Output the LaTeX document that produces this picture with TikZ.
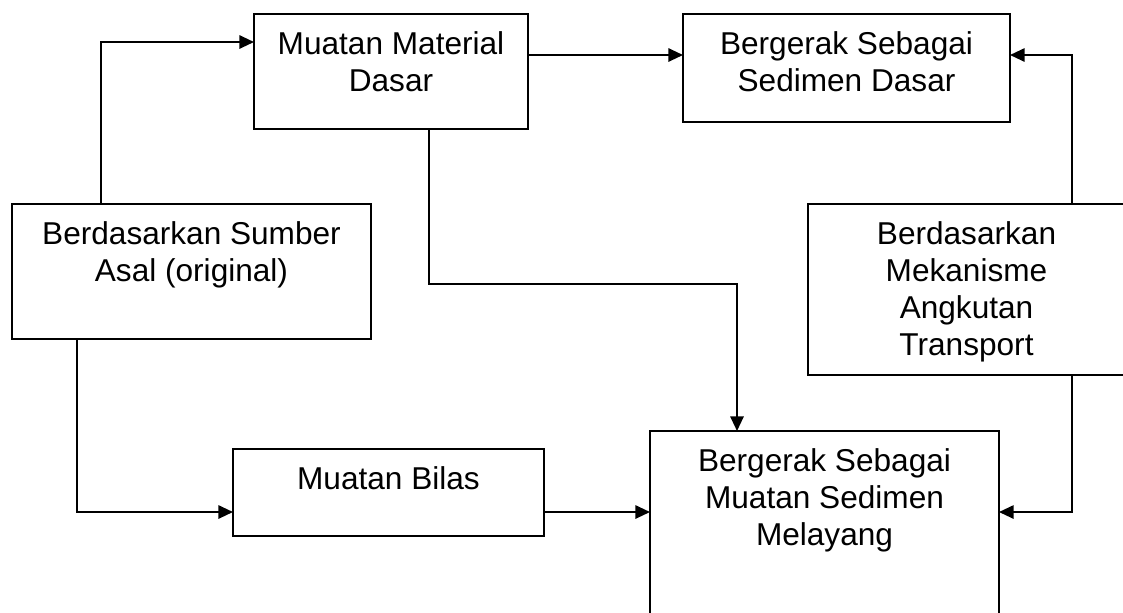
\documentclass[tikz,border=0pt]{standalone}
\usepackage{fontspec}
\setmainfont{Liberation Sans}
\usetikzlibrary{arrows.meta}
\newlength{\piks}
\setlength{\piks}{0.75pt}
\newcommand{\kotak}[3]{\parbox[t][#2\piks][t]{#1\piks}{\centering\rule{0pt}{30pt}#3}}
\tikzset{
  box/.style={draw, line width=1.4pt, inner sep=0pt, outer sep=0pt,
              anchor=north west, font=\fontsize{23.7}{27.75}\selectfont},
  panah/.style={line width=1.5pt, -{Triangle[length=11pt,width=10pt]}}
}

\begin{document}
\begin{tikzpicture}[x=0.75pt,y=-0.75pt]
  \useasboundingbox (0,0) rectangle (1123,612);
  \clip (0,0) rectangle (1123,612);

  \node (mmd) [box] at (254,14)
             {\kotak{274}{115}{Muatan Material\\Dasar}};
  \node (sdasar) [box] at (683,14)
             {\kotak{327}{108}{Bergerak Sebagai\\Sedimen Dasar}};
  \node (sumber) [box] at (12,204)
             {\kotak{359}{135}{Berdasarkan Sumber\\Asal (original)}};
  \node (mekanisme) [box] at (808,204)
             {\kotak{317}{171}{Berdasarkan\\Mekanisme\\Angkutan\\Transport}};
  \node (bilas) [box] at (233,449)
             {\kotak{311}{87}{Muatan Bilas}};
  %% this one runs off the bottom of the page
  \node (melayang) [box] at (650,431)
             {\kotak{349}{200}{Bergerak Sebagai\\Muatan Sedimen\\Melayang}};

  \draw[panah] ([xshift=89\piks]sumber.north west) |- ([yshift=-28\piks]mmd.north west);
  \draw[panah] ([xshift=65\piks]sumber.south west) |- ([yshift=-63\piks]bilas.north west);
  \draw[panah] ([yshift=-41\piks]mmd.north east) -- ([yshift=-41\piks]sdasar.north west);
  \draw[panah] ([xshift=175\piks]mmd.south west) -- ++(0,155)
               -| ([xshift=87\piks]melayang.north west);
  \draw[panah] ([yshift=-63\piks]bilas.north east) -- ([yshift=-81\piks]melayang.north west);

  %% right hand side
  \draw[panah] ([xshift=264\piks]mekanisme.north west) |- ([yshift=-41\piks]sdasar.north east);
  \draw[panah] ([xshift=264\piks]mekanisme.south west) |- ([yshift=-81\piks]melayang.north east);
\end{tikzpicture}
\end{document}
